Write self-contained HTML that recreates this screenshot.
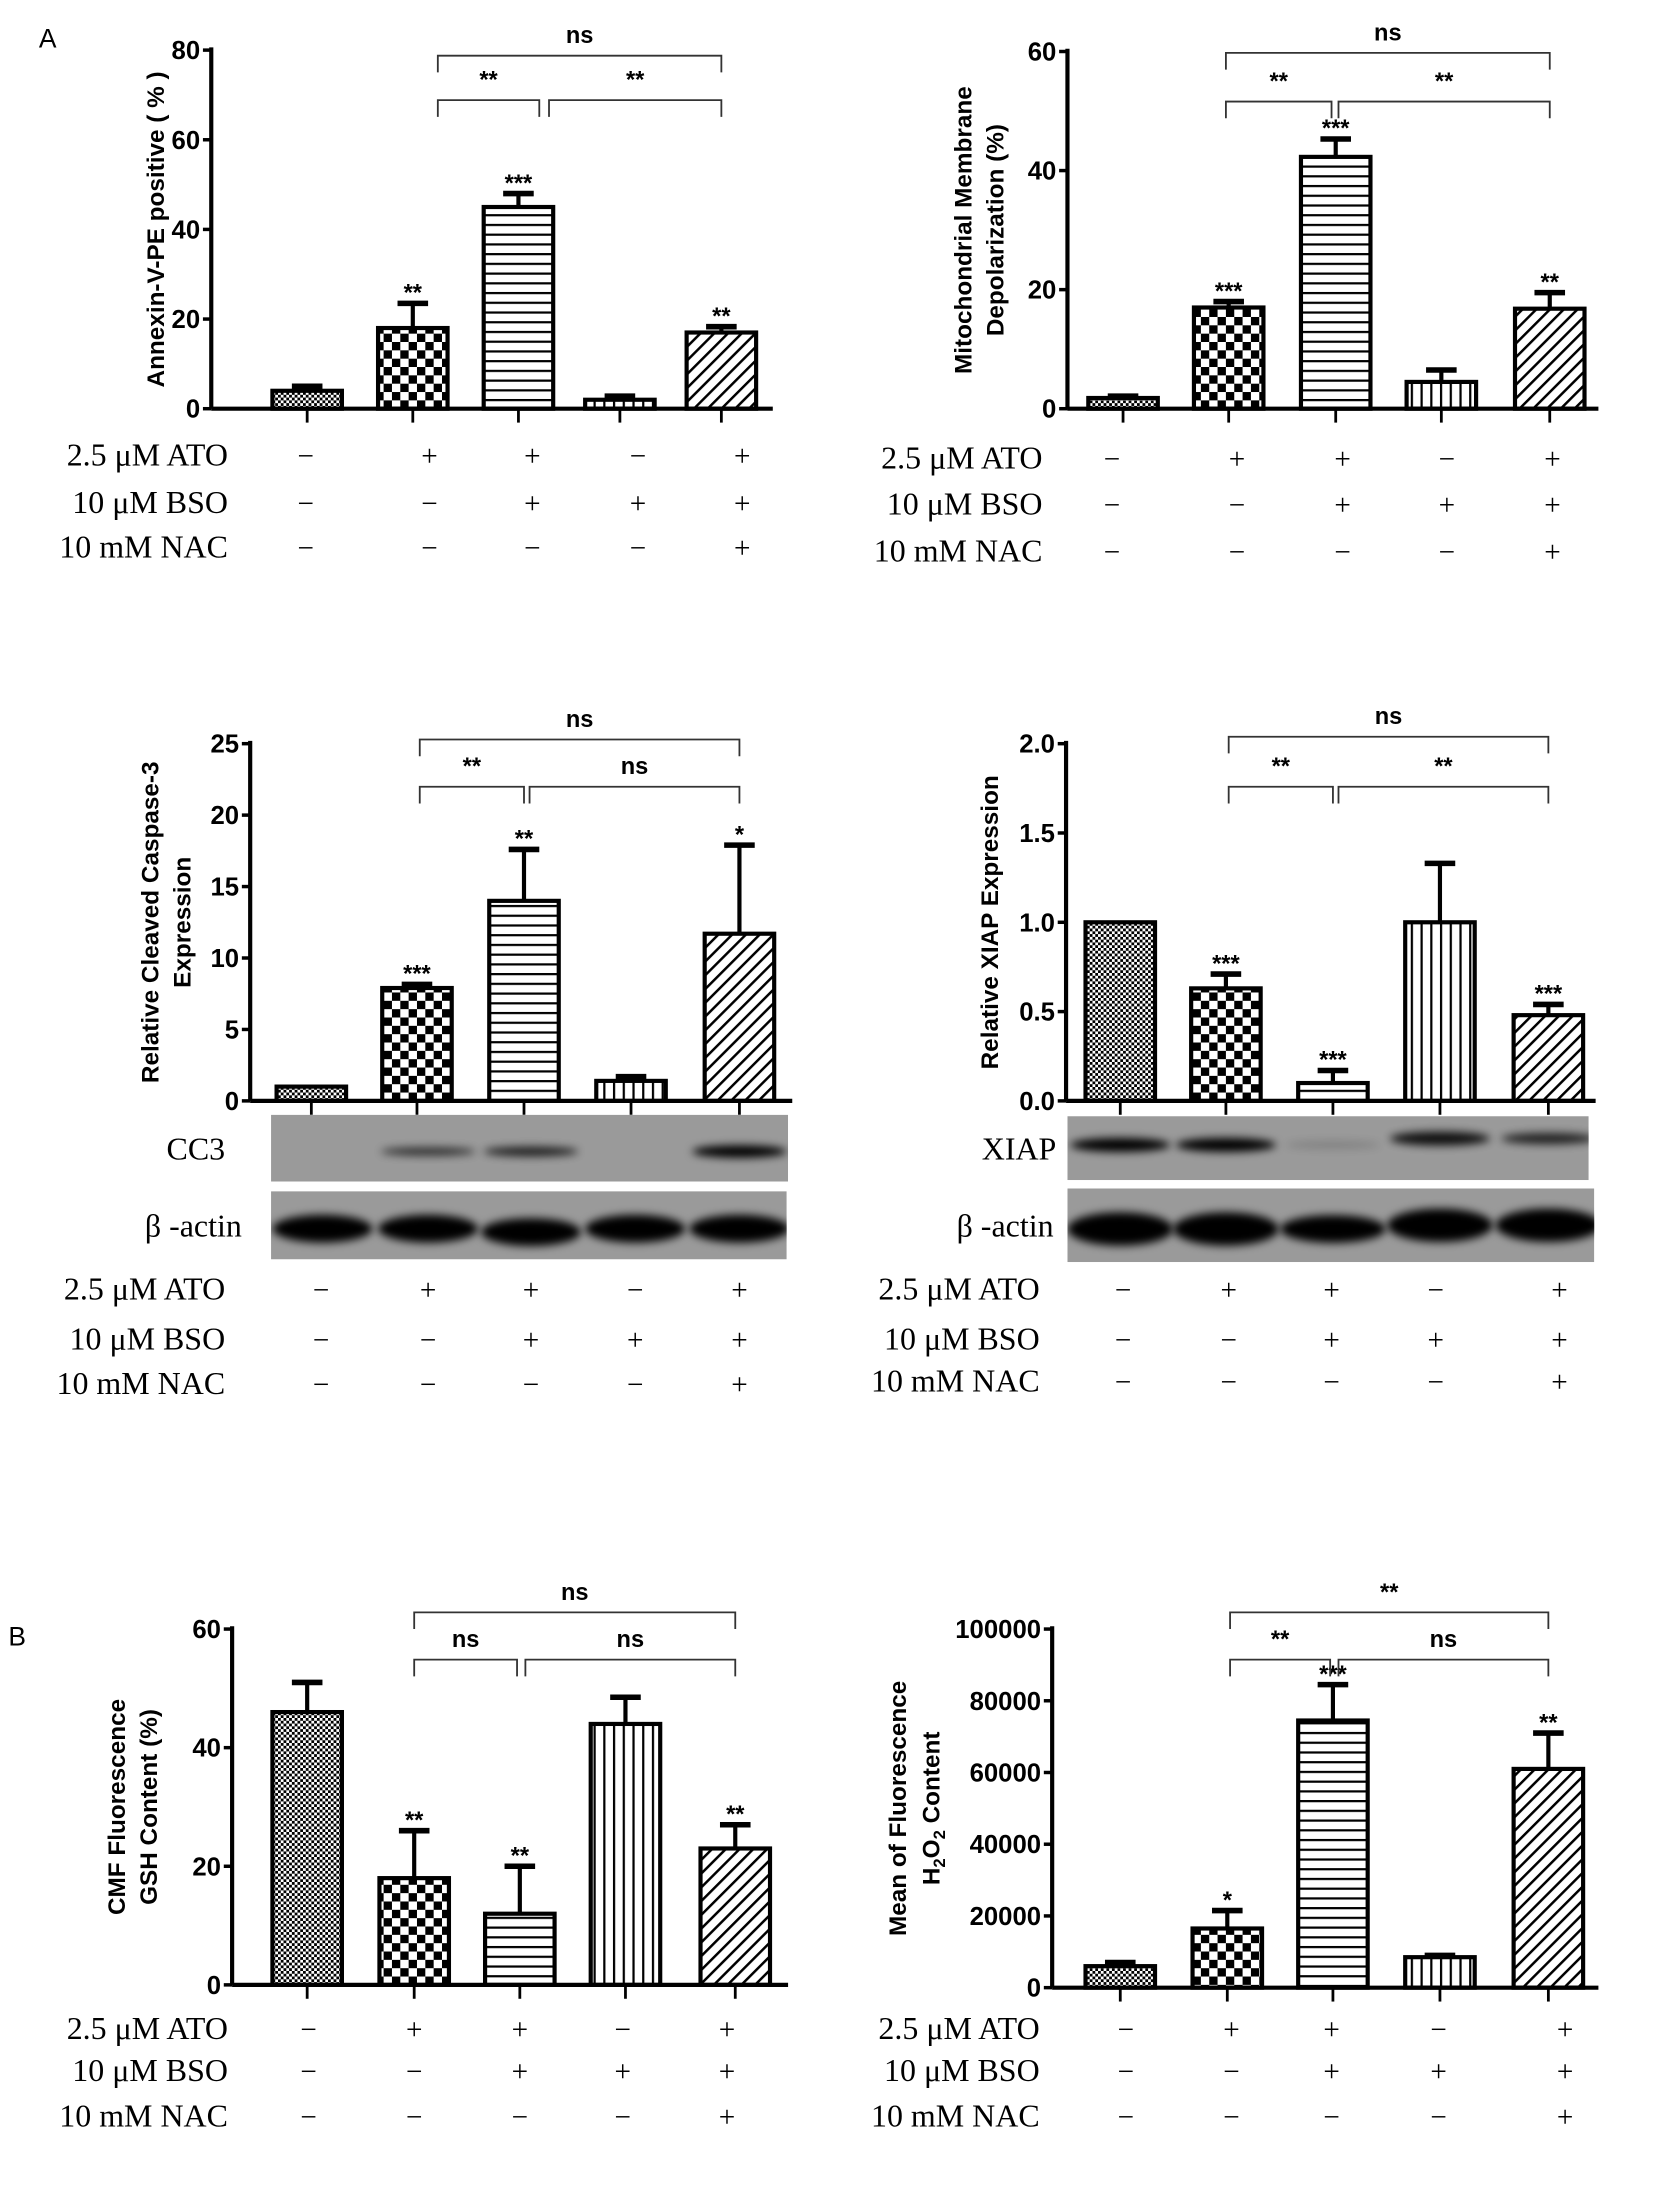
<!DOCTYPE html>
<html><head><meta charset="utf-8">
<style>
html,body{margin:0;padding:0;background:#fff;}
svg{display:block;}
.tick{font-family:"Liberation Sans",sans-serif;font-weight:bold;font-size:18.5px;}
.ttl{font-family:"Liberation Sans",sans-serif;font-weight:bold;font-size:17.5px;}
.star{font-family:"Liberation Sans",sans-serif;font-weight:bold;font-size:17px;}
.row{font-family:"Liberation Serif",serif;font-size:23px;}
.sym{font-family:"Liberation Serif",serif;font-size:21px;}
.lab{font-family:"Liberation Sans",sans-serif;font-size:19px;}
</style></head>
<body>
<svg id="fig" width="1654" height="2199" viewBox="0 0 1190 1582" xmlns="http://www.w3.org/2000/svg">
<defs>
<pattern id="p0" width="4" height="4" patternUnits="userSpaceOnUse"><rect width="4" height="4" fill="#fff"/><rect width="2" height="2" fill="#000"/><rect x="2" y="2" width="2" height="2" fill="#000"/></pattern>
<pattern id="p1" width="12" height="12" patternUnits="userSpaceOnUse"><rect width="12" height="12" fill="#fff"/><rect width="6" height="6" fill="#000"/><rect x="6" y="6" width="6" height="6" fill="#000"/></pattern>
<pattern id="p2" width="10" height="7" patternUnits="userSpaceOnUse"><rect width="10" height="7" fill="#fff"/><rect y="0" width="10" height="1.6" fill="#000"/></pattern>
<pattern id="p3" width="7" height="10" patternUnits="userSpaceOnUse"><rect width="7" height="10" fill="#fff"/><rect x="0" width="1.6" height="10" fill="#000"/></pattern>
<pattern id="p4" width="7" height="7" patternUnits="userSpaceOnUse" patternTransform="rotate(45)"><rect width="7" height="7" fill="#fff"/><rect width="1.8" height="7" fill="#000"/></pattern>
<filter id="blur" x="-20%" y="-100%" width="140%" height="300%"><feGaussianBlur stdDeviation="3"/></filter>
</defs>
<text x="28" y="34" class="lab">A</text>
<text x="6" y="1184" class="lab">B</text>
<g id="root"></g>
</svg>
<script>
// ---- chart data ----
const groups = ["ctrl","ATO","ATO+BSO","BSO","ATO+BSO+NAC"];
const atoRow = ["−","+","+","−","+"];
const bsoRow = ["−","−","+","+","+"];
const nacRow = ["−","−","−","−","+"];

const annexinValues = [4, 18, 45, 2, 17];
const annexinErr = [1, 5.5, 3, 0.8, 1.3];
const annexinStars = ["", "**", "***", "", "**"];
const annexinTicks = [0,20,40,60,80];

const mitoValues = [1.8, 17, 42.3, 4.5, 16.8];
const mitoErr = [0.3, 1, 3, 2, 2.7];
const mitoStars = ["", "***", "***", "", "**"];
const mitoTicks = [0,20,40,60];

const cc3Values = [1, 7.9, 14, 1.4, 11.7];
const cc3Err = [0, 0.25, 3.6, 0.3, 6.2];
const cc3Stars = ["", "***", "**", "", "*"];
const cc3Ticks = [0,5,10,15,20,25];

const xiapValues = [1.0, 0.63, 0.1, 1.0, 0.48];
const xiapErr = [0, 0.08, 0.07, 0.33, 0.06];
const xiapStars = ["", "***", "***", "", "***"];
const xiapTicks = [0,0.5,1.0,1.5,2.0];

const gshValues = [46, 18, 12, 44, 23];
const gshErr = [5, 8, 8, 4.5, 4];
const gshStars = ["", "**", "**", "", "**"];
const gshTicks = [0,20,40,60];

const h2o2Values = [6000, 16500, 74500, 8500, 61000];
const h2o2Err = [1000, 5000, 10000, 500, 10000];
const h2o2Stars = ["", "*", "***", "", "**"];
const h2o2Ticks = [0,20000,40000,60000,80000,100000];

const NS = "http://www.w3.org/2000/svg";
const root = document.getElementById('root');
function mk(tag, attrs, parent, txt){
  const e = document.createElementNS(NS, tag);
  for (const k in attrs) e.setAttribute(k, attrs[k]);
  if (txt !== undefined) e.textContent = txt;
  (parent||root).appendChild(e);
  return e;
}

function chart(c){
  const g = mk('g', {});
  
  
  const max = c.ticks[c.ticks.length-1];
  const y = v => c.y0 - (v/max)*(c.y0-c.yTop);
  const x = i => c.x0 + c.xs[i];
  const ax = mk('line', {x1:c.ax, y1:c.yTop-2, x2:c.ax, y2:c.y0, stroke:'#000','stroke-width':3}, g);
  
  
  c.ticks.forEach(t => {
    mk('line', {x1:c.ax-6, y1:y(t), x2:c.ax, y2:y(t), stroke:'#000','stroke-width':2.5}, g);
    const tl = mk('text', {x:c.ax-8, y:y(t)+6.5, 'text-anchor':'end', class:'tick'}, g, c.fmt ? c.fmt(t) : t);
    
    
  });
  c.title.forEach((tt, k) => {
    const cx = c.titleX[k], cy = (c.y0 + c.yTop)/2;
    const te = mk('text', {x:cx, y:cy, 'text-anchor':'middle', class:'ttl', transform:`rotate(-90 ${cx} ${cy})`}, g);
    te.innerHTML = tt;
    
    
  });
  const bw = 50;
  c.values.forEach((v, i) => {
    const cx = x(i);
    const top = y(v + c.err[i]);
    if (c.err[i] > 0) {
      mk('line', {x1:cx, y1:y(v), x2:cx, y2:top, stroke:'#000','stroke-width':3}, g);
      mk('line', {x1:cx-11, y1:top, x2:cx+11, y2:top, stroke:'#000','stroke-width':4}, g);
    }
    const r = mk('rect', {x:cx-bw/2, y:y(v), width:bw, height:c.y0-y(v), fill:`url(#p${i})`, stroke:'#000','stroke-width':3}, g);
    
    
    if (c.stars[i]) {
      const s = mk('text', {x:cx, y:top-2, 'text-anchor':'middle', class:'star'}, g, c.stars[i]);
      
      
    }
    mk('line', {x1:cx, y1:c.y0, x2:cx, y2:c.y0+10, stroke:'#000','stroke-width':2}, g);
  });
  const xa = mk('line', {x1:c.ax, y1:c.y0, x2:c.axEnd, y2:c.y0, stroke:'#000','stroke-width':3}, g);
  
  
  c.brackets.forEach(b => {
    const bx1 = x(b.a) + (b.da||0), bx2 = x(b.b) + (b.db||0);
    mk('path', {d:`M${bx1} ${b.y+12} V${b.y} H${bx2} V${b.y+12}`, fill:'none', stroke:'#333','stroke-width':1.3}, g);
    const bt = mk('text', {x:(bx1+bx2)/2, y:b.y-9, 'text-anchor':'middle', class:'star', 'font-weight':'normal'}, g, b.t);
    
    
  });
  const rows = [["2.5 μM ATO", atoRow],["10 μM BSO", bsoRow],["10 mM NAC", nacRow]];
  rows.forEach((r, k) => {
    const ry = c.rowY[k];
    const lt = mk('text', {x:c.rowLabelX, y:ry, 'text-anchor':'end', class:'row'}, g, r[0]);
    
    
    r[1].forEach((s, i) => {
      mk('text', {x:c.symX[i], y:ry, 'text-anchor':'middle', class:'sym'}, g, s);
    });
  });
  return g;
}

let clipN = 0;
function blot(name, label, x0, yb, w, h, bands, labelX){
  const g = mk('g', {});
  
  
  const id = 'clip' + (clipN++);
  const cp = mk('clipPath', {id:id}, g);
  mk('rect', {x:x0, y:yb, width:w, height:h}, cp);
  const inner = mk('g', {'clip-path':`url(#${id})`}, g);
  mk('rect', {x:x0, y:yb, width:w, height:h, fill:'#9a9a9a'}, inner);
  bands.forEach(b => {
    if (b[2] > 0) mk('ellipse', {cx:b[0], cy:yb + h*b[1], rx:b[4]||34, ry:b[3]||5, fill:'#000', opacity:b[2], filter:'url(#blur)'}, inner);
  });
  mk('text', {x:labelX, y:yb + h/2 + 8, 'text-anchor':'end', class:'row'}, g, label);
}

chart({name:'annexin-chart', ax:152, axEnd:556, y0:294, yTop:36, x0:0, xs:[221,297,373,446,519],
  ticks:annexinTicks, values:annexinValues, err:annexinErr, stars:annexinStars,
  title:["Annexin-V-PE positive ( % )"], titleX:[118],
  brackets:[{a:1,b:4,y:40,t:"ns",da:18},{a:1,b:2,y:72,t:"**",da:18,db:15},{a:2,b:4,y:72,t:"**",da:22}],
  rowY:[335,369,401], rowLabelX:164, symX:[220,309,383,459,534]});

chart({name:'mitochondrial-chart', ax:768, axEnd:1150, y0:294, yTop:37, x0:0, xs:[808,884,961,1037,1115],
  ticks:mitoTicks, values:mitoValues, err:mitoErr, stars:mitoStars,
  title:["Mitochondrial Membrane","Depolarization (%)"], titleX:[699,722],
  brackets:[{a:1,b:4,y:38,t:"ns",da:-2},{a:1,b:2,y:73,t:"**",da:-2,db:-3},{a:2,b:4,y:73,t:"**",da:2}],
  rowY:[337,370,404], rowLabelX:750, symX:[800,890,966,1041,1117]});

chart({name:'caspase3-chart', ax:180, axEnd:570, y0:792, yTop:535, x0:0, xs:[224,300,377,454,532],
  ticks:cc3Ticks, values:cc3Values, err:cc3Err, stars:cc3Stars,
  title:["Relative Cleaved Caspase-3","Expression"], titleX:[114,137],
  brackets:[{a:1,b:4,y:532,t:"ns",da:2},{a:1,b:2,y:566,t:"**",da:2},{a:2,b:4,y:566,t:"ns",da:4}],
  rowY:[935,971,1003], rowLabelX:162, symX:[231,308,382,457,532]});

chart({name:'xiap-chart', ax:767, axEnd:1148, y0:792, yTop:535, x0:0, xs:[806,882,959,1036,1114],
  ticks:xiapTicks, values:xiapValues, err:xiapErr, stars:xiapStars, fmt:t=>t.toFixed(1),
  title:["Relative XIAP Expression"], titleX:[718],
  brackets:[{a:1,b:4,y:530,t:"ns",da:2},{a:1,b:2,y:566,t:"**",da:2},{a:2,b:4,y:566,t:"**",da:4}],
  rowY:[935,971,1001], rowLabelX:748, symX:[808,884,958,1033,1122]});

chart({name:'gsh-chart', ax:167, axEnd:567, y0:1428, yTop:1172, x0:0, xs:[221,298,374,450,529],
  ticks:gshTicks, values:gshValues, err:gshErr, stars:gshStars,
  title:["CMF Fluorescence","GSH Content (%)"], titleX:[90,113],
  brackets:[{a:1,b:4,y:1160,t:"ns"},{a:1,b:2,y:1194,t:"ns",db:-2},{a:2,b:4,y:1194,t:"ns",da:4}],
  rowY:[1467,1497,1530], rowLabelX:164, symX:[222,298,374,448,523]});

chart({name:'h2o2-chart', ax:757, axEnd:1150, y0:1430, yTop:1172, x0:0, xs:[806,883,959,1036,1114],
  ticks:h2o2Ticks, values:h2o2Values, err:h2o2Err, stars:h2o2Stars,
  title:["Mean of Fluorescence","H<tspan dy='4' font-size='12'>2</tspan><tspan dy='-4'>O</tspan><tspan dy='4' font-size='12'>2</tspan><tspan dy='-4'> Content</tspan>"], titleX:[652,676],
  brackets:[{a:1,b:4,y:1160,t:"**",da:2},{a:1,b:2,y:1194,t:"**",da:2,db:-2},{a:2,b:4,y:1194,t:"ns",da:4}],
  rowY:[1467,1497,1530], rowLabelX:748, symX:[810,886,958,1035,1126]});

blot('cc3-blot','CC3',195,802,372,48,[[308,0.55,0.7,3],[382,0.55,0.8,3.5],[532,0.55,1,4.5]],162);
blot('cc3-actin-blot','β -actin',195,857,371,49,[[232,0.55,1,10,36],[308,0.55,1,10,36],[382,0.6,1,10,36],[457,0.55,1,10,36],[532,0.55,1,10,36]],174);
blot('xiap-blot','XIAP',768,803,375,46,[[806,0.45,1,5,36],[882,0.45,1,5,36],[959,0.45,0.15,3],[1036,0.35,0.9,5,36],[1114,0.35,0.8,4,34]],760);
blot('xiap-actin-blot','β -actin',768,855,379,53,[[806,0.55,1,12,38],[882,0.55,1,12,38],[959,0.55,1,10,38],[1036,0.5,1,12,38],[1114,0.5,1,12,38]],758);
</script>
</body></html>
